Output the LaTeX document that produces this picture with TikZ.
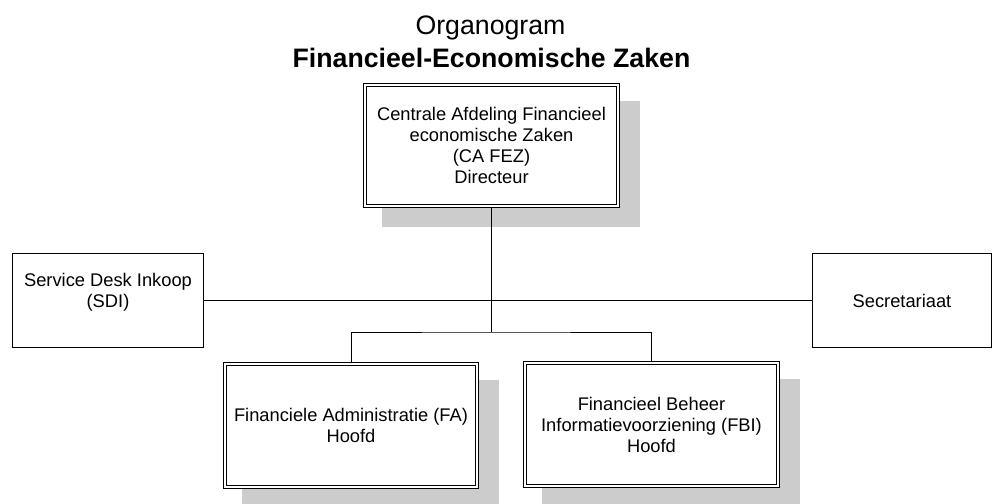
\documentclass[tikz,border=0pt]{standalone}
\usepackage{fontspec}
\setmainfont{Liberation Sans}
\usetikzlibrary{backgrounds}
\definecolor{shadowgray}{RGB}{204,204,204}
\tikzset{
  boxfont/.style={font=\fontsize{18.3}{21}\selectfont},
  titlefont/.style={font=\fontsize{26.7}{30}\selectfont},
  boldtitlefont/.style={font=\fontsize{26.7}{30}\selectfont\bfseries},
  unitbox/.style={draw=black, fill=white, double=white, line width=0.9pt,
    double distance=2pt, inner sep=0pt, align=center, boxfont},
  sidebox/.style={draw=black, fill=white, line width=1pt, inner sep=0pt,
    align=center, boxfont},
  shadowfill/.style={fill=shadowgray},
  link/.style={draw=black, line width=1pt},
  trunk/.style={draw=black, line width=1.5pt}
}
\begin{document}
\begin{tikzpicture}[x=1pt, y=-1pt]
  \useasboundingbox (0,0) rectangle (992,503);
  \clip (0,0) rectangle (992,503);

  % heading
  \node[titlefont, anchor=base] (title) at (490.5,34.5) {Organogram};
  \node[boldtitlefont, anchor=base] (subtitle) at (491.5,67)
    {Financieel-Economische Zaken};

  % management and units
  \node[unitbox, minimum width=253.2pt, minimum height=121.2pt] (top) at (491.5,145.5)
    {Centrale Afdeling Financieel\\economische Zaken\\(CA FEZ)\\Directeur};
  \node[unitbox, minimum width=252.2pt, minimum height=123.2pt] (fa) at (351,425.5)
    {Financiele Administratie (FA)\\Hoofd};
  \node[unitbox, minimum width=253.2pt, minimum height=123.2pt] (fbi) at (651.5,424.5)
    {Financieel Beheer\\Informatievoorziening (FBI)\\Hoofd};

  % staff positions
  \node[sidebox, minimum width=191pt, minimum height=94pt] (sdi) at (108,300.5)
    {Service Desk Inkoop\\(SDI)\\\mbox{}};
  \node[sidebox, minimum width=179pt, minimum height=94pt] (sec) at (902,300.5)
    {Secretariaat};

  % drop shadows behind the unit boxes
  \begin{scope}[on background layer]
    \foreach \n in {top,fa,fbi}
      \fill[shadowfill] ([shift={(17.6,16.6)}]\n.north west)
        rectangle ([shift={(21.4,20.4)}]\n.south east);
  \end{scope}

  % connectors
  \coordinate (bus) at (491.5,332);
  \draw[trunk] (top.south) -- (bus);
  \draw[link] (sdi.east) -- (sec.west);
  \draw[link] (fa.north) |- (bus) -| (fbi.north);
\end{tikzpicture}
\end{document}
